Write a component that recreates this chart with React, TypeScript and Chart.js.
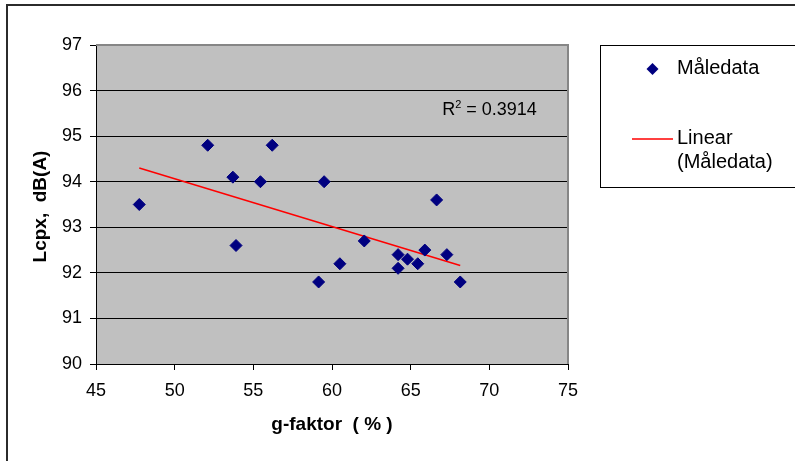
import React, { useEffect, useRef } from "react";
import { Chart, registerables } from "chart.js";

Chart.register(...registerables);

// Data
const gFaktor = [47.75, 52.1, 53.7, 53.9, 55.45, 56.2, 59.15, 59.5, 60.5, 62.05, 64.2, 64.2, 64.8, 65.45, 65.9, 66.65, 67.3, 68.15];
const lcpx = [93.5, 94.8, 94.1, 92.6, 94.0, 94.8, 91.8, 94.0, 92.2, 92.7, 92.4, 92.1, 92.3, 92.2, 92.5, 93.6, 92.4, 91.8];
const trendX = [47.75, 68.15];
const trendY = [94.3, 92.16];
const xTickValues = [45, 50, 55, 60, 65, 70, 75];
const yTickValues = [90, 91, 92, 93, 94, 95, 96, 97];
const seriesName = "Måledata";
const trendName = "Linear (Måledata)";
const xTitle = "g-faktor  ( % )";
const yTitle = "Lcpx,  dB(A)";
const r2Label = "0.3914";

const FONT = "'Liberation Sans', Arial, sans-serif";
const NAVY = "#000080";

const decorPlugin = {
  id: "decor",
  beforeDraw(chart: any) {
    const { ctx, chartArea: a } = chart;
    ctx.save();
    ctx.fillStyle = "#ffffff";
    ctx.fillRect(0, 0, chart.width, chart.height);
    ctx.fillStyle = "#C0C0C0";
    ctx.fillRect(a.left, a.top, a.right - a.left, a.bottom - a.top);
    ctx.restore();
  },
  beforeDatasetsDraw(chart: any) {
    const { ctx, chartArea: a } = chart;
    ctx.save();
    ctx.strokeStyle = "#868686";
    ctx.lineWidth = 2;
    ctx.beginPath();
    ctx.moveTo(a.left, a.top);
    ctx.lineTo(a.right, a.top);
    ctx.lineTo(a.right, a.bottom);
    ctx.stroke();
    ctx.restore();
  },
  afterDraw(chart: any) {
    const { ctx, chartArea: a, scales } = chart;
    ctx.save();
    // outer frame
    ctx.strokeStyle = "#2b2b2b";
    ctx.lineWidth = 2;
    ctx.beginPath();
    ctx.moveTo(7, chart.height);
    ctx.lineTo(7, 5);
    ctx.lineTo(chart.width, 5);
    ctx.stroke();

    // axis titles
    ctx.fillStyle = "#000";
    ctx.font = `bold 19px ${FONT}`;
    ctx.textAlign = "center";
    ctx.textBaseline = "middle";
    ctx.fillText(xTitle, (a.left + a.right) / 2, 425);
    ctx.save();
    ctx.translate(41, (a.top + a.bottom) / 2 + 2);
    ctx.rotate(-Math.PI / 2);
    ctx.fillText(yTitle, 0, 0);
    ctx.restore();

    // R² label
    const rx = scales.x.getPixelForValue(67.0);
    const ry = scales.y.getPixelForValue(95.57);
    ctx.textAlign = "left";
    ctx.textBaseline = "middle";
    ctx.font = `18px ${FONT}`;
    ctx.fillText("R", rx, ry);
    let w = ctx.measureText("R").width;
    ctx.font = `11px ${FONT}`;
    ctx.fillText("2", rx + w, ry - 5);
    w += ctx.measureText("2").width;
    ctx.font = `18px ${FONT}`;
    ctx.fillText(" = " + r2Label, rx + w, ry);

    // legend box
    ctx.strokeStyle = "#000";
    ctx.lineWidth = 1;
    ctx.strokeRect(600.5, 45.5, 220, 142);
    // marker
    ctx.fillStyle = NAVY;
    ctx.beginPath();
    ctx.moveTo(652.5 - 6, 69);
    ctx.lineTo(652.5, 69 - 6);
    ctx.lineTo(652.5 + 6, 69);
    ctx.lineTo(652.5, 69 + 6);
    ctx.closePath();
    ctx.fill();
    // line
    ctx.strokeStyle = "#FF0000";
    ctx.lineWidth = 1.5;
    ctx.beginPath();
    ctx.moveTo(632, 139);
    ctx.lineTo(673, 139);
    ctx.stroke();
    ctx.fillStyle = "#000";
    ctx.font = `20px ${FONT}`;
    ctx.textAlign = "left";
    ctx.textBaseline = "middle";
    ctx.fillText(seriesName, 677, 68);
    const parts = trendName.split(" ");
    ctx.fillText(parts[0], 677, 138);
    ctx.fillText(parts.slice(1).join(" "), 677, 162);
    ctx.restore();
  },
};

export default function App() {
  const ref = useRef<HTMLCanvasElement | null>(null);
  useEffect(() => {
    document.body.style.margin = "0";
    const canvas = ref.current!;
    const points = gFaktor.map((x, i) => ({ x, y: lcpx[i] }));
    const trend = trendX.map((x, i) => ({ x, y: trendY[i] }));
    const chart = new Chart(canvas, {
      type: "scatter",
      data: {
        datasets: [
          {
            label: seriesName,
            data: points,
            pointStyle: "rectRot",
            pointRadius: 6,
            pointHoverRadius: 6,
            backgroundColor: NAVY,
            borderColor: NAVY,
            borderWidth: 1,
            showLine: false,
          },
          {
            label: trendName,
            data: trend,
            showLine: true,
            borderColor: "#FF0000",
            borderWidth: 1.5,
            pointRadius: 0,
            fill: false,
          },
        ],
      },
      options: {
        responsive: false,
        maintainAspectRatio: false,
        devicePixelRatio: 1,
        animation: false,
        events: [],
        layout: { padding: { left: 0, top: 45, right: 227, bottom: 0 } },
        plugins: { legend: { display: false }, tooltip: { enabled: false } },
        scales: {
          x: {
            type: "linear",
            min: 45,
            max: 75,
            afterFit: (s: any) => { s.height = 97; },
            afterBuildTicks: (s: any) => { s.ticks = xTickValues.map((v) => ({ value: v })); },
            ticks: { color: "#000", font: { family: FONT, size: 18 }, padding: 10, maxRotation: 0 },
            grid: { drawOnChartArea: false, drawTicks: true, tickLength: 6, tickColor: "#000", lineWidth: 1 },
            border: { color: "#000", width: 1 },
          },
          y: {
            type: "linear",
            min: 90,
            max: 97,
            afterFit: (s: any) => { s.width = 96; },
            afterBuildTicks: (s: any) => { s.ticks = yTickValues.map((v) => ({ value: v })); },
            ticks: { color: "#000", font: { family: FONT, size: 18 }, padding: 8 },
            grid: {
              color: (c: any) => (c.tick && c.tick.value === 97 ? "rgba(0,0,0,0)" : "#000"),
              drawTicks: true,
              tickLength: 6,
              tickColor: "#000",
              lineWidth: 1,
            },
            border: { color: "#000", width: 1 },
          },
        },
      },
      plugins: [decorPlugin],
    });
    return () => chart.destroy();
  }, []);
  return (
    <div style={{ width: 795, height: 461 }}>
      <canvas ref={ref} width={795} height={461} style={{ display: "block" }} />
    </div>
  );
}
